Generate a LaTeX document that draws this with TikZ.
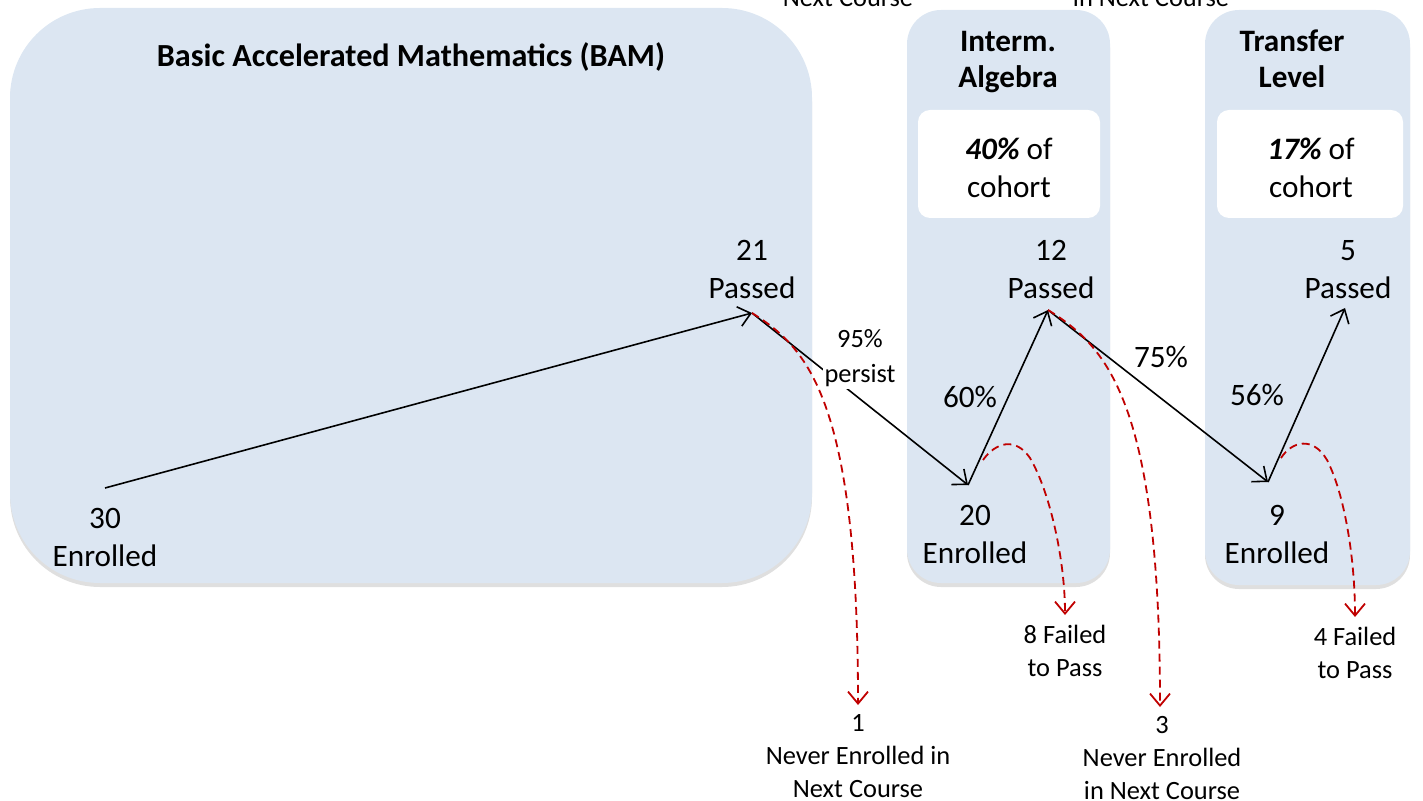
\documentclass[tikz,border=0pt]{standalone}
\usepackage{fontspec}
\setmainfont{Carlito}
\usetikzlibrary{arrows.meta,shadows}

\definecolor{courseblue}{RGB}{220,230,242}
\definecolor{dropred}{RGB}{192,0,0}

\tikzset{
  coursebox/.style={fill=courseblue, rounded corners=#1,
    drop shadow={shadow xshift=0pt, shadow yshift=-2pt, opacity=0.25}},
  sharebox/.style={fill=white, rounded corners=6pt},
  big/.style={align=center, anchor=base, inner sep=1pt, font=\fontsize{15.6}{19}\selectfont},
  small/.style={align=center, anchor=base, inner sep=1pt, font=\fontsize{13.2}{16.5}\selectfont},
  flow/.style={line width=0.8pt, -{Straight Barb[length=6pt,width=10pt]}},
  loss/.style={draw=dropred, line width=0.9pt, dash pattern=on 4pt off 2.5pt,
    -{Straight Barb[length=6pt,width=10pt]}},
}

\begin{document}
\begin{tikzpicture}[x=0.5pt,y=-0.5pt]
  \useasboundingbox (0,0) rectangle (1423,801);

  %% Course boxes
  \path[coursebox=45pt] (10,8) rectangle (812,583);
  \path[coursebox=17pt] (907,10) rectangle (1110,583);
  \path[coursebox=17pt] (1205,10) rectangle (1410,585);
  \path[sharebox] (918,110) rectangle (1100,218);
  \path[sharebox] (1217,110) rectangle (1403,218);

  %% Headings (base = last line)
  \node[big, font=\fontsize{16.1}{19}\selectfont\bfseries] (bam) at (411,67) {Basic Accelerated Mathematics (BAM)};
  \node[big, font=\fontsize{15.6}{18}\selectfont\bfseries] (interm) at (1008,88) {Interm.\\Algebra};
  \node[big, font=\fontsize{15.6}{18}\selectfont\bfseries] (transfer) at (1292,88) {Transfer\\Level};
  \node[big] (share40) at (1009,198) {\textbf{\textit{40\%}} of\\cohort};
  \node[big] (share17) at (1311,198) {\textbf{\textit{17\%}} of\\cohort};

  %% Counts
  \foreach \nm/\x/\y/\num/\what in {enr30/105/567/30/Enrolled, pas21/752/299/21/Passed,
      pas12/1051/299/12/Passed, pas5/1348/299/5/Passed,
      enr20/975/563/20/Enrolled, enr9/1277/563/9/Enrolled}
    \node[big] (\nm) at (\x,\y) {\num\\\what};

  %% Points where the arrows meet
  \coordinate (e30) at (105,488);
  \coordinate (p21) at (752,313);
  \coordinate (e20) at (968,485);
  \coordinate (p12) at (1048,310);
  \coordinate (e9)  at (1268,482);
  \coordinate (p5)  at (1345,308);
  \coordinate (h20) at (983,460);
  \coordinate (h9)  at (1281,458);
  \coordinate (f8)  at (1065,615);
  \coordinate (f4)  at (1355,617);
  \coordinate (n1)  at (858,705);
  \coordinate (n3)  at (1160,707);

  %% Flow of the cohort
  \draw[flow] (e30) -- (p21);
  \draw[flow] (p21) -- (e20);
  \draw[flow] (e20) -- (p12);
  \draw[flow] (p12) -- (e9);
  \draw[flow] (e9) -- (p5);

  \node[small, fill=white, font=\fontsize{13.2}{17.5}\selectfont] (persist) at (860,383) {95\%\\persist};
  \node[big] (rate60) at (970,408) {60\%};
  \node[big] (rate75) at (1161,368) {75\%};
  \node[big] (rate56) at (1257,406) {56\%};

  %% Students lost
  \draw[loss] (p21) .. controls (808,348) and (858,400) .. (n1);
  \draw[loss] (p12) .. controls (1106,346) and (1160,400) .. (n3);
  \draw[loss] (h20) .. controls (995,443) and (1015,436) .. (1030,458)
    .. controls (1050,492) and (1065,560) .. (f8);
  \draw[loss] (h9) .. controls (1292,441) and (1313,436) .. (1327,460)
    .. controls (1345,495) and (1355,560) .. (f4);

  \foreach \nm/\x/\y/\one/\two in {fail8/1065/676/8 Failed/to Pass, fail4/1355/678/4 Failed/to Pass}
    \node[small] (\nm) at (\x,\y) {\one\\\two};
  \node[small] (never1) at (858,797) {1\\Never Enrolled in\\Next Course};
  \node[small] (never3) at (1162,799) {3\\Never Enrolled\\in Next Course};

  %% Cut off at the top edge
  \node[small] (cut1) at (848,7) {Next Course};
  \node[small] (cut3) at (1151,7) {in Next Course};
\end{tikzpicture}
\end{document}
